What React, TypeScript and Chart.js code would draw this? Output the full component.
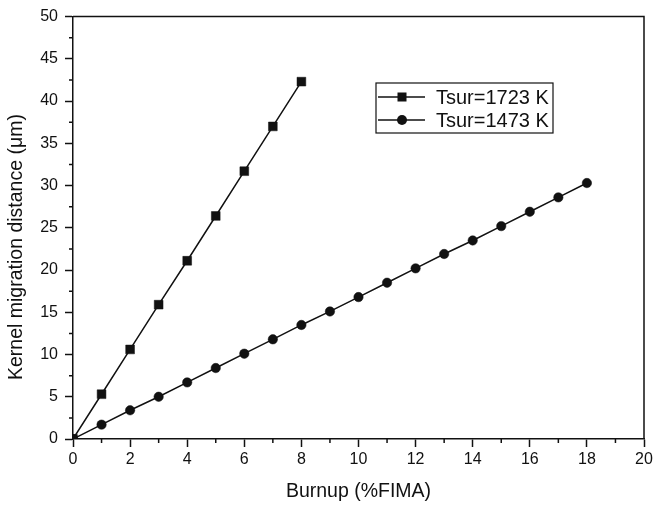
import React, { useEffect, useRef } from "react";
import { Chart, registerables } from "chart.js";

Chart.register(...registerables);

const burnup1723 = [0, 1, 2, 3, 4, 5, 6, 7, 8];
const dist1723 = [0, 5.3, 10.6, 15.9, 21.1, 26.4, 31.7, 37.0, 42.3];
const burnup1473 = [0, 1, 2, 3, 4, 5, 6, 7, 8, 9, 10, 11, 12, 13, 14, 15, 16, 17, 18];
const dist1473 = [0, 1.7, 3.4, 5.0, 6.7, 8.4, 10.1, 11.8, 13.5, 15.1, 16.8, 18.5, 20.2, 21.9, 23.5, 25.2, 26.9, 28.6, 30.3];
const seriesLabels = ["Tsur=1723 K", "Tsur=1473 K"];
const xTitle = "Burnup (%FIMA)";
const yTitle = "Kernel migration distance (\u03bcm)";
const xRange = [0, 20];
const yRange = [0, 50];
const xMinorTicks = [1, 3, 5, 7, 9, 11, 13, 15, 17, 19];
const yMinorTicks = [2.5, 7.5, 12.5, 17.5, 22.5, 27.5, 32.5, 37.5, 42.5, 47.5];

const FONT = "'Liberation Sans', Arial, sans-serif";
const INK = "#111";

const framePlugin = {
  id: "frameAndLegend",
  afterDraw(chart: any) {
    const { ctx, chartArea } = chart;
    const xs = chart.scales.x;
    const ys = chart.scales.y;
    ctx.save();
    ctx.strokeStyle = INK;
    ctx.lineWidth = 1.5;
    // top and right frame
    ctx.beginPath();
    ctx.moveTo(chartArea.left, chartArea.top);
    ctx.lineTo(chartArea.right, chartArea.top);
    ctx.lineTo(chartArea.right, chartArea.bottom);
    ctx.stroke();
    // minor ticks
    ctx.beginPath();
    for (const v of xMinorTicks) {
      const px = xs.getPixelForValue(v);
      ctx.moveTo(px, chartArea.bottom);
      ctx.lineTo(px, chartArea.bottom + 4);
    }
    for (const v of yMinorTicks) {
      const py = ys.getPixelForValue(v);
      ctx.moveTo(chartArea.left, py);
      ctx.lineTo(chartArea.left - 4, py);
    }
    ctx.stroke();

    // y axis title
    ctx.save();
    ctx.fillStyle = INK;
    ctx.font = `19.5px ${FONT}`;
    ctx.translate(17, 380);
    ctx.rotate(-Math.PI / 2);
    ctx.textAlign = "left";
    ctx.textBaseline = "middle";
    ctx.fillText(yTitle, 0, 0);
    ctx.restore();

    // legend box
    const bx = 376, by = 83, bw = 177, bh = 50;
    ctx.lineWidth = 1.2;
    ctx.strokeRect(bx, by, bw, bh);
    const rows = [97, 120];
    ctx.font = `20px ${FONT}`;
    ctx.textBaseline = "middle";
    ctx.textAlign = "left";
    ctx.fillStyle = INK;
    rows.forEach((ry, i) => {
      ctx.lineWidth = 1.5;
      ctx.beginPath();
      ctx.moveTo(378, ry);
      ctx.lineTo(425, ry);
      ctx.stroke();
      if (i === 0) {
        ctx.fillRect(402 - 4.5, ry - 4.5, 9, 9);
      } else {
        ctx.beginPath();
        ctx.arc(402, ry, 5, 0, Math.PI * 2);
        ctx.fill();
      }
      ctx.fillText(seriesLabels[i], 436, ry + 1);
    });
    ctx.restore();
  },
};

export default function App() {
  const ref = useRef<HTMLCanvasElement>(null);
  useEffect(() => {
    if (!ref.current) return;
    const chart = new Chart(ref.current, {
      type: "line",
      data: {
        datasets: [
          {
            label: seriesLabels[0],
            data: burnup1723.map((x, i) => ({ x, y: dist1723[i] })),
            borderColor: INK,
            backgroundColor: INK,
            borderWidth: 1.5,
            pointStyle: "rect",
            pointRadius: 6.2,
            pointBorderWidth: 0.5,
            pointBackgroundColor: INK,
            pointBorderColor: INK,
            tension: 0,
          },
          {
            label: seriesLabels[1],
            data: burnup1473.map((x, i) => ({ x, y: dist1473[i] })),
            borderColor: INK,
            backgroundColor: INK,
            borderWidth: 1.5,
            pointStyle: "circle",
            pointRadius: 4.7,
            pointBorderWidth: 0.5,
            pointBackgroundColor: INK,
            pointBorderColor: INK,
            tension: 0,
          },
        ],
      },
      options: {
        animation: false,
        responsive: false,
        devicePixelRatio: 1,
        layout: { padding: { top: 15, right: 9, left: 0, bottom: 0 } },
        plugins: { legend: { display: false }, tooltip: { enabled: false } },
        scales: {
          x: {
            type: "linear",
            min: xRange[0],
            max: xRange[1],
            afterFit: (s: any) => {
              s.height = 66;
              s.paddingRight = 0;
              s.paddingLeft = 0;
            },
            ticks: { stepSize: 2, color: INK, font: { family: FONT, size: 16 }, padding: 3, maxRotation: 0 },
            grid: { drawOnChartArea: false, tickLength: 8, tickWidth: 1.5, tickColor: INK },
            border: { color: INK, width: 1.5 },
            title: {
              display: true,
              text: xTitle,
              color: INK,
              font: { family: FONT, size: 19.5 },
              padding: { top: 0, bottom: 1.5 },
            },
          },
          y: {
            type: "linear",
            min: yRange[0],
            max: yRange[1],
            afterFit: (s: any) => {
              s.width = 73;
            },
            ticks: { stepSize: 5, color: INK, font: { family: FONT, size: 16 }, padding: 7 },
            grid: { drawOnChartArea: false, tickLength: 8, tickWidth: 1.5, tickColor: INK },
            border: { color: INK, width: 1.5 },
            title: { display: false },
          },
        },
      },
      plugins: [framePlugin],
    });
    return () => chart.destroy();
  }, []);
  return (
    <div style={{ position: "fixed", left: 0, top: 0, width: 653, height: 505, background: "#fff" }}>
      <canvas ref={ref} width={653} height={505} style={{ display: "block" }} />
    </div>
  );
}
